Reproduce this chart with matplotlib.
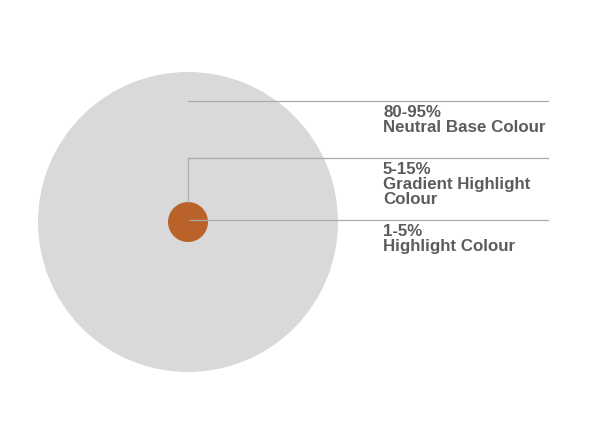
import matplotlib
matplotlib.use("Agg")
import matplotlib.pyplot as plt
from matplotlib.patches import Circle

# shares shown on the chart
ranges = ["80-95%", "5-15%", "1-5%"]
names = ["Neutral Base Colour", "Gradient Highlight\nColour", "Highlight Colour"]
radii = [150, 20]           # outer (base) and inner (highlight) circle, px
circle_colors = ["#d9d9d9", "#b9622a"]
leader_y = [101, 158, 220]  # y of each leader line

cx, cy = 188, 222
line_end = 548
text_x = 383
line_col = "#ababab"
text_col = "#5c5c5c"

plt.rcParams['font.family'] = ['Liberation Sans', 'DejaVu Sans']

fig = plt.figure(figsize=(6, 4.24), dpi=100)
ax = fig.add_axes([0, 0, 1, 1])
ax.set_xlim(0, 600)
ax.set_ylim(424, 0)
ax.axis('off')

for r, c in zip(radii, circle_colors):
    ax.add_patch(Circle((cx, cy), r, color=c, lw=0, zorder=1))

# leader lines
ax.plot([cx, line_end], [leader_y[0], leader_y[0]], color=line_col, lw=0.9, zorder=2)
ax.plot([cx, cx, line_end], [cy - radii[1], leader_y[1], leader_y[1]], color=line_col, lw=0.9, zorder=2)
ax.plot([cx + 2, line_end], [leader_y[2], leader_y[2]], color=line_col, lw=0.9, zorder=2)

for y, rg, nm in zip(leader_y, ranges, names):
    ax.text(text_x, y + 4, rg + "\n" + nm, ha='left', va='top', fontsize=12.2,
            fontweight='bold', color=text_col, linespacing=1.0, zorder=3)

fig.savefig("out.png", dpi=100)
